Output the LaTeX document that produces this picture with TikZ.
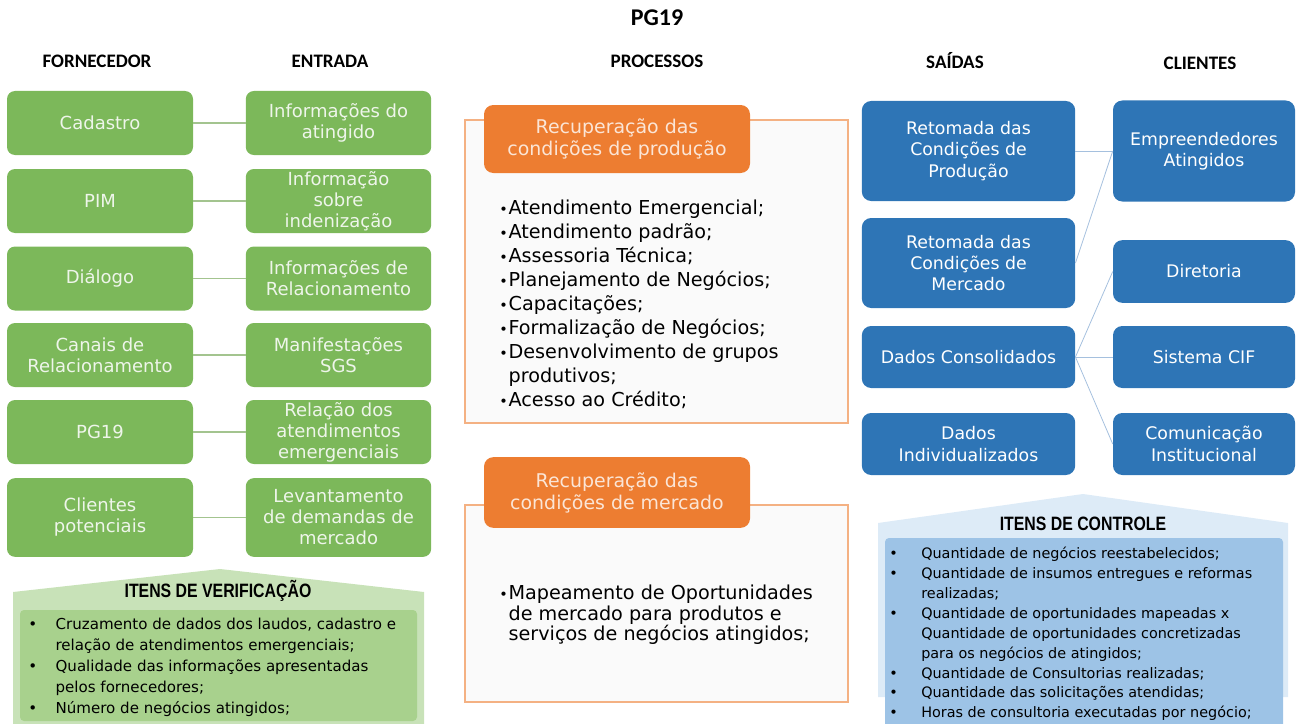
\documentclass[tikz,border=0pt]{standalone}
\usepackage{fontspec}
\setmainfont{DejaVu Sans}
\newfontfamily\headfont{Carlito}
\newfontfamily\narrowfont[FakeStretch=0.82]{Liberation Sans}
\definecolor{boxgreen}{HTML}{7CB85A}
\definecolor{gtext}{HTML}{EEF5EA}
\definecolor{glinkc}{HTML}{A3C48F}
\definecolor{verout}{HTML}{C8E2B8}
\definecolor{verin}{HTML}{A8D18D}
\definecolor{procorange}{HTML}{ED7D31}
\definecolor{otext}{HTML}{FBE5D6}
\definecolor{procline}{HTML}{F4B183}
\definecolor{procfill}{HTML}{FAFAFA}
\definecolor{boxblue}{HTML}{2E75B6}
\definecolor{blinkc}{HTML}{A5C0DE}
\definecolor{ctlout}{HTML}{DDEBF7}
\definecolor{ctlin}{HTML}{9DC3E6}
\newcommand{\pb}{\makebox[7pt][l]{\scalebox{0.75}{\textbullet}}}
\newcommand{\vb}{\makebox[20.5pt][l]{\textbullet}}
\newcommand{\cb}{\makebox[24pt][l]{\textbullet}}
\begin{document}
\begin{tikzpicture}[x=0.75pt, y=-0.75pt,
	hdr/.style={font=\headfont\bfseries\fontsize{14.3}{16}\selectfont},
	gbox/.style={fill=boxgreen, rounded corners=6pt, text=gtext, align=center, inner sep=1pt, minimum height=48pt, font=\fontsize{13.5}{15.75}\selectfont},
	bbox/.style={fill=boxblue, rounded corners=7pt, text=white, align=center, inner sep=1pt, font=\fontsize{13}{16}\selectfont},
	ohead/.style={fill=procorange, rounded corners=7pt, text=otext, align=center, inner sep=1pt, minimum width=199.5pt, font=\fontsize{14.2}{16.5}\selectfont},
	frame/.style={draw=procline, fill=procfill, line width=0.8pt, minimum width=287.25pt},
	glink/.style={draw=glinkc, line width=0.8pt},
	blink/.style={draw=blinkc, line width=0.6pt},
	itemtitle/.style={font=\narrowfont\bfseries\fontsize{14.5}{16}\selectfont},
	plist/.style={align=left, inner sep=0pt, anchor=west, font=\fontsize{14.4}{18}\selectfont},
	vlist/.style={align=left, inner sep=0pt, anchor=west, font=\fontsize{11.3}{15.75}\selectfont},
	clist/.style={align=left, inner sep=0pt, anchor=west, font=\fontsize{10.8}{14.9}\selectfont}]
	\useasboundingbox (0,0) rectangle (1299,724);

	% titles
	\node[hdr, font=\headfont\bfseries\fontsize{18}{20}\selectfont] (tit) at (657,18) {PG19};
	\node[hdr] (hforn) at (97,61) {FORNECEDOR};
	\node[hdr] (hentr) at (330,61) {ENTRADA};
	\node[hdr] (hproc) at (657,61) {PROCESSOS};
	\node[hdr] (hsaid) at (955,61) {SAÍDAS};
	\node[hdr] (hcli) at (1200,63) {CLIENTES};

	% fornecedor
	\node[gbox, minimum width=139.5pt] (cad) at (100,123) {Cadastro};
	\node[gbox, minimum width=139.5pt] (pim) at (100,201) {PIM};
	\node[gbox, minimum width=139.5pt] (dia) at (100,278.5) {Diálogo};
	\node[gbox, minimum width=139.5pt] (can) at (100,355) {Canais de\\Relacionamento};
	\node[gbox, minimum width=139.5pt] (pg) at (100,432) {PG19};
	\node[gbox, minimum width=139.5pt, minimum height=59pt] (cli) at (100,517.5) {Clientes\\potenciais};

	% entrada
	\node[gbox, minimum width=139pt] (einf) at (338.5,123) {Informações do\\atingido};
	\node[gbox, minimum width=139pt] (eind) at (338.5,201) {Informação\\sobre\\indenização};
	\node[gbox, minimum width=139pt] (erel) at (338.5,278.5) {Informações de\\Relacionamento};
	\node[gbox, minimum width=139pt] (eman) at (338.5,355) {Manifestações\\SGS};
	\node[gbox, minimum width=139pt] (eatd) at (338.5,432) {Relação dos\\atendimentos\\emergenciais};
	\node[gbox, minimum width=139pt, minimum height=59pt] (edem) at (338.5,517.5) {Levantamento\\de demandas de\\mercado};

	\foreach \a/\b in {cad/einf, pim/eind, dia/erel, can/eman, pg/eatd, cli/edem}
		\draw[glink] (\a) -- (\b);

	% itens de verificacao
	\fill[verout] (13,724) -- (13,592) -- (220,569) -- (424,592) -- (424,724) -- cycle;
	\fill[verin, rounded corners=3pt] (20,610) rectangle (417,721);
	\node[itemtitle] (vtit) at (218,591) {ITENS DE VERIFICAÇÃO};
	\node[vlist] (vlst) at (28,667) {\vb Cruzamento de dados dos laudos, cadastro e\\
		\hspace*{20.5pt}relação de atendimentos emergenciais;\\
		\vb Qualidade das informações apresentadas\\
		\hspace*{20.5pt}pelos fornecedores;\\
		\vb Número de negócios atingidos;};

	% processos
	\node[frame, minimum height=227.25pt] (pfr1) at (656.5,271.5) {};
	\node[ohead, minimum height=51pt] (oh1) at (617,139) {Recuperação das\\condições de produção};
	\node[plist] (pl1) at (499,304.5) {\pb Atendimento Emergencial;\\
		\pb Atendimento padrão;\\
		\pb Assessoria Técnica;\\
		\pb Planejamento de Negócios;\\
		\pb Capacitações;\\
		\pb Formalização de Negócios;\\
		\pb Desenvolvimento de grupos\\
		\hspace*{7pt}produtivos;\\
		\pb Acesso ao Crédito;};

	\node[frame, minimum height=147.75pt] (pfr2) at (656.5,603.5) {};
	\node[ohead, minimum height=53pt] (oh2) at (617,492.5) {Recuperação das\\condições de mercado};
	\node[plist, font=\fontsize{14.4}{15.5}\selectfont] (pl2) at (499,615) {\pb Mapeamento de Oportunidades\\
		\hspace*{7pt}de mercado para produtos e\\
		\hspace*{7pt}serviços de negócios atingidos;};

	% saidas
	\node[bbox, minimum width=160pt, minimum height=75pt] (sprod) at (968.5,151) {Retomada das\\Condições de\\Produção};
	\node[bbox, minimum width=160pt, minimum height=67.5pt] (smerc) at (968.5,263) {Retomada das\\Condições de\\Mercado};
	\node[bbox, minimum width=160pt, minimum height=46.5pt] (scons) at (968.5,357) {Dados Consolidados};
	\node[bbox, minimum width=160pt, minimum height=46.5pt] (sind) at (968.5,444) {Dados\\Individualizados};

	% clientes
	\node[bbox, minimum width=136.5pt, minimum height=75.75pt] (cemp) at (1204,151) {Empreendedores\\Atingidos};
	\node[bbox, minimum width=136.5pt, minimum height=47pt] (cdir) at (1204,271.5) {Diretoria};
	\node[bbox, minimum width=136.5pt, minimum height=46.5pt] (ccif) at (1204,357) {Sistema CIF};
	\node[bbox, minimum width=136.5pt, minimum height=46.5pt] (ccom) at (1204,444) {Comunicação\\Institucional};

	\draw[blink] (sprod.east) -- (cemp.west);
	\draw[blink] (smerc.east) -- (cemp.west);
	\draw[blink] (scons.east) -- (cdir.west);
	\draw[blink] (scons.east) -- (ccif.west);
	\draw[blink] (scons.east) -- (ccom.west);

	% itens de controle
	\fill[ctlout] (878,697) -- (878,523) -- (1083,494) -- (1288,523) -- (1288,697) -- cycle;
	\fill[ctlin] (885,724) [rounded corners=3pt] -- (885,538) -- (1283,538) [sharp corners] -- (1283,724) -- cycle;
	\node[itemtitle] (ctit) at (1083,524) {ITENS DE CONTROLE};
	\node[clist] (clst) at (889,634) {\cb Quantidade de negócios reestabelecidos;\\
		\cb Quantidade de insumos entregues e reformas\\
		\hspace*{24pt}realizadas;\\
		\cb Quantidade de oportunidades mapeadas x\\
		\hspace*{24pt}Quantidade de oportunidades concretizadas\\
		\hspace*{24pt}para os negócios de atingidos;\\
		\cb Quantidade de Consultorias realizadas;\\
		\cb Quantidade das solicitações atendidas;\\
		\cb Horas de consultoria executadas por negócio;};
\end{tikzpicture}
\end{document}
